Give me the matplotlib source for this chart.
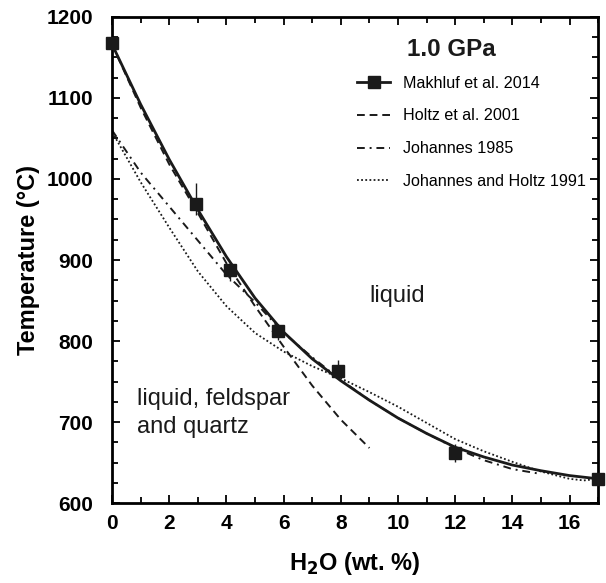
import numpy as np
import matplotlib.pyplot as plt
from matplotlib.ticker import MultipleLocator

plt.rcParams['font.family'] = ['Liberation Sans', 'DejaVu Sans']
plt.rcParams['mathtext.default'] = 'bf'

# Makhluf et al. 2014 experiments
exp_h2o = [0, 2.95, 4.13, 5.8, 7.9, 12, 17]
exp_t = [1168, 969, 888, 812, 763, 662, 630]
exp_err_lo = [0, 14, 14, 11, 8, 11, 0]
exp_err_hi = [0, 26, 10, 9, 14, 11, 0]

# fitted liquidus curves
mak_x = [0, 1, 2, 3, 4, 5, 6, 7, 8, 9, 10, 11, 12, 13, 14, 15, 16, 17]
mak_t = [1166, 1092, 1024, 962, 904, 853, 811, 778, 751, 727, 705, 686, 669, 657, 647, 640, 634, 630]

holtz_x = [0, 1, 2, 3, 4, 5, 6, 7, 8, 9]
holtz_t = [1166, 1088, 1018, 958, 896, 843, 793, 745, 703, 668]

joh_x = [0, 1, 2, 3, 4, 5, 6, 7, 8, 9, 10, 11, 12, 13, 14, 15]
joh_t = [1060, 1008, 966, 924, 882, 848, 810, 780, 752, 727, 705, 686, 668, 653, 642, 636]

jh_x = [0, 1, 2, 3, 4, 5, 6, 7, 8, 9, 10, 11, 12, 13, 14, 15, 16, 16.5, 17]
jh_t = [1058, 996, 940, 886, 843, 810, 787, 769, 754, 737, 719, 699, 679, 664, 651, 639, 630, 628, 630]

labels = ['Makhluf et al. 2014', 'Holtz et al. 2001', 'Johannes 1985',
          'Johannes and Holtz 1991']

col = '#1a1a1a'
dash = (4, 2.5)
dashdot = (4, 2.5, 1, 2.5)
dot = (1, 1.3)

fig = plt.figure(figsize=(6.06, 5.83), dpi=100)
ax = fig.add_axes([0.185, 0.137, 0.802, 0.834])

ax.plot(mak_x, mak_t, color=col, lw=2.0, zorder=3)
ax.errorbar(exp_h2o, exp_t, yerr=[exp_err_lo, exp_err_hi], fmt='none',
            ecolor=col, elinewidth=1.0, zorder=4)
ax.plot(exp_h2o, exp_t, 's', color=col, ms=8, zorder=5, clip_on=False)
ax.plot(holtz_x, holtz_t, color=col, lw=1.4, dashes=dash)
ax.plot(joh_x, joh_t, color=col, lw=1.4, dashes=dashdot)
ax.plot(jh_x, jh_t, color=col, lw=1.3, dashes=dot)

# legend handles
h1, = ax.plot([], [], '-s', color=col, lw=2.0, ms=8)
h2, = ax.plot([], [], color=col, lw=1.4, dashes=dash)
h3, = ax.plot([], [], color=col, lw=1.4, dashes=dashdot)
h4, = ax.plot([], [], color=col, lw=1.3, dashes=dot)
ax.legend([h1, h2, h3, h4], labels, loc='upper left',
          bbox_to_anchor=(0.504, 0.879), frameon=False, borderpad=0,
          borderaxespad=0, fontsize=11.6, handlelength=2.05,
          handletextpad=0.8, labelspacing=1.1)
ax.text(0.607, 0.92, '1.0 GPa', transform=ax.transAxes, fontsize=17.4,
        fontweight='bold', color=col, va='baseline')

ax.text(9.0, 848, 'liquid', fontsize=17, color=col, va='baseline')
ax.text(0.87, 721, 'liquid, feldspar', fontsize=17, color=col, va='baseline')
ax.text(0.87, 686, 'and quartz', fontsize=17, color=col, va='baseline')

ax.set_xlim(0, 17)
ax.set_ylim(600, 1200)
ax.xaxis.set_major_locator(MultipleLocator(2))
ax.xaxis.set_minor_locator(MultipleLocator(1))
ax.yaxis.set_major_locator(MultipleLocator(100))
ax.yaxis.set_minor_locator(MultipleLocator(25))
ax.tick_params(which='both', direction='in', top=True, right=True, width=1.3)
ax.tick_params(which='major', length=6, labelsize=15)
ax.tick_params(which='minor', length=4)
ax.tick_params(axis='x', which='major', pad=8)
ax.tick_params(axis='y', which='major', pad=13.5)
for lab in ax.get_xticklabels() + ax.get_yticklabels():
    lab.set_fontweight('bold')
for s in ax.spines.values():
    s.set_linewidth(2)

ax.set_xlabel('H$_2$O (wt. %)', fontsize=17, fontweight='bold', labelpad=12)
ax.set_ylabel('Temperature (°C)', fontsize=17, fontweight='bold', labelpad=5)

fig.savefig('out.png', dpi=100)
